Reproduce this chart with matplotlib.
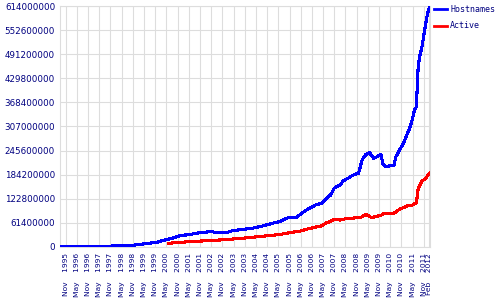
import numpy as np
import matplotlib
matplotlib.use("Agg")
import matplotlib.pyplot as plt

# survey months and values (millions of sites)
host_months = ["1995-08", "1996-05", "1996-11", "1997-05", "1997-08", "1998-12",
               "1999-06", "1999-12", "2000-02", "2000-05", "2000-08", "2000-11",
               "2001-01", "2001-05", "2001-08", "2001-12", "2002-06", "2002-07",
               "2003-02", "2003-04", "2003-10", "2004-03", "2004-07", "2004-12",
               "2005-03", "2005-06", "2005-09", "2005-11", "2006-03", "2006-05",
               "2006-08", "2007-01", "2007-04", "2007-07", "2007-08", "2007-09",
               "2007-11", "2008-02", "2008-04", "2008-07", "2008-09", "2008-12",
               "2009-01", "2009-02", "2009-04", "2009-06", "2009-08", "2009-10",
               "2009-12", "2010-01", "2010-02", "2010-03", "2010-07", "2010-08",
               "2010-10", "2010-12", "2011-03", "2011-04", "2011-05", "2011-06",
               "2011-07", "2011-08", "2011-09", "2011-10", "2011-11", "2011-12",
               "2012-01", "2012-02"]
host_values = [0.02, 0.2, 0.5, 1.0, 1.7, 5.0,
               8.4, 12, 15, 18.6, 22, 27,
               30, 31, 34, 37.5, 39, 36.4,
               37.5, 40.8, 45, 47.6, 51.7, 57.8,
               62, 64.5, 73, 74.7, 76.4, 84,
               94, 107, 111, 124, 130, 132,
               150, 158, 169, 177, 183, 188,
               205, 223, 236, 240, 226, 230,
               236, 213, 206, 205, 209, 230,
               247, 264, 298, 311, 328, 349,
               357, 464, 490, 510, 540, 570,
               595, 612]

active_months = ["2000-06", "2000-09", "2001-03", "2001-12", "2002-02", "2002-06",
                 "2003-01", "2003-06", "2004-01", "2004-10", "2005-06", "2005-11",
                 "2006-05", "2006-08", "2007-02", "2007-04", "2007-07", "2007-08",
                 "2007-11", "2008-02", "2008-06", "2009-01", "2009-04", "2009-07",
                 "2009-12", "2010-02", "2010-07", "2010-10", "2011-02", "2011-05",
                 "2011-07", "2011-08", "2011-10", "2011-12", "2012-02"]
active_values = [8.4, 11, 12.7, 15.3, 17, 17,
                 18.6, 21, 23.7, 28, 32, 36.4,
                 40.8, 45, 51.7, 53.5, 62, 63,
                 70.6, 68.8, 73, 74.7, 83, 74.7,
                 80.8, 86, 86, 96, 104.5, 107,
                 113, 150, 168, 175, 188]

y_ticks = [0, 61400000, 122800000, 184200000, 245600000, 307000000,
           368400000, 429800000, 491200000, 552600000, 614000000]
x_tick_labels = ["Nov 1995", "May 1996", "Nov 1996", "May 1997", "Nov 1997",
                 "May 1998", "Nov 1998", "May 1999", "Nov 1999", "May 2000",
                 "Nov 2000", "May 2001", "Nov 2001", "May 2002", "Nov 2002",
                 "May 2003", "Nov 2003", "May 2004", "Nov 2004", "May 2005",
                 "Nov 2005", "May 2006", "Nov 2006", "May 2007", "Nov 2007",
                 "May 2008", "Nov 2008", "May 2009", "Nov 2009", "May 2010",
                 "Nov 2010", "May 2011", "Nov 2011", "Feb 2012"]

month_names = {"Jan": 1, "Feb": 2, "May": 5, "Nov": 11}


def month_index(s):
    y, m = s.split("-")
    return (int(y) - 1995) * 12 + int(m) - 1


def label_index(lab):
    mon, yr = lab.split()
    return (int(yr) - 1995) * 12 + month_names[mon] - 1


hx = [month_index(s) for s in host_months]
hy = np.array(host_values) * 1e6
ax_ = [month_index(s) for s in active_months]
ay = np.array(active_values) * 1e6

fig = plt.figure(figsize=(5, 3), dpi=100)
ax = fig.add_axes([0.12, 0.1767, 0.74, 0.8033])

grid_c = "#dddddd"
ax.plot(hx, hy, color="#0000ff", lw=1.5, label="Hostnames", zorder=3,
        antialiased=False)
ax.plot(ax_, ay, color="#ff0000", lw=1.5, label="Active", zorder=3,
        antialiased=False)

ax.set_xlim(7, 205.3)
ax.set_ylim(0, 614000000)

xt = [label_index(l) for l in x_tick_labels]
ax.set_xticks(xt)
ax.set_xticklabels([l.replace(" ", "    ") for l in x_tick_labels],
                   rotation=90, fontsize=5.4, color="#000080")
ax.set_yticks(y_ticks)
ax.set_yticklabels(["%d" % v for v in y_ticks], fontsize=6.3, color="#000080")
ax.tick_params(length=0, pad=3.5)
ax.tick_params(axis="x", pad=4.5)

ax.grid(True, color=grid_c, lw=0.8)
ax.set_axisbelow(True)
for sp in ax.spines.values():
    sp.set_color(grid_c)
    sp.set_linewidth(0.8)

leg = ax.legend(loc="upper left", bbox_to_anchor=(0.868, 0.985),
                bbox_transform=fig.transFigure, frameon=False,
                prop={"family": "DejaVu Sans Mono", "size": 6},
                handlelength=1.6, handletextpad=0.35, labelspacing=0.95,
                borderpad=0, borderaxespad=0)
for t in leg.get_texts():
    t.set_color("#000080")
for h in leg.get_lines():
    h.set_linewidth(2)

fig.savefig("out.png", dpi=100)
